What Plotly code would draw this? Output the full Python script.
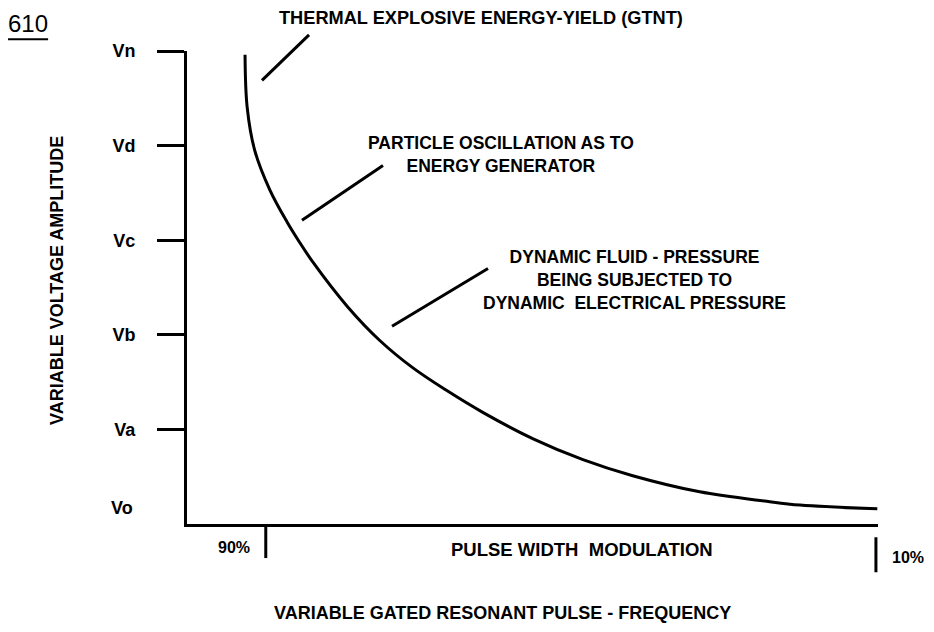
import plotly.graph_objects as go

# ---- data ----
volt_levels = [1, 2, 3, 4, 5]
volt_labels = ["Va", "Vb", "Vc", "Vd", "Vn"]
zero_label = "Vo"

# frequency axis in arbitrary units (0 at the voltage axis, 100 at the end)
curve_x = [8.4, 8.7, 9.8, 12.0, 14.5, 16.1, 18.2, 23.2, 27.9, 32.7, 37.6, 42.8,
           50.1, 57.3, 64.5, 74.2, 83.9, 88.7, 99.9]
curve_y = [4.96, 4.41, 3.95, 3.53, 3.19, 3.00, 2.77, 2.30, 1.94, 1.65, 1.41, 1.18,
           0.90, 0.68, 0.51, 0.34, 0.24, 0.20, 0.16]

pwm_x = [11.4, 99.7]
pwm_labels = ["90%", "10%"]
pwm_bar_top = [-0.02, -0.14]
pwm_bar_bottom = [-0.36, -0.51]
pwm_label_y = [-0.25, -0.35]

leader_x0 = [10.85, 16.64, 29.67]
leader_y0 = [4.69, 3.21, 2.09]
leader_x1 = [17.66, 28.36, 43.56]
leader_y1 = [5.17, 3.79, 2.70]

note_texts = [
    "THERMAL EXPLOSIVE ENERGY-YIELD (GTNT)",
    "PARTICLE OSCILLATION AS TO<br>ENERGY GENERATOR",
    "DYNAMIC FLUID - PRESSURE<br>BEING SUBJECTED TO<br>DYNAMIC\u00a0 ELECTRICAL PRESSURE",
]
note_x = [42.5, 45.4, 64.7]
note_y = [5.35, 3.91, 2.58]

x_title = "VARIABLE GATED RESONANT PULSE - FREQUENCY"
y_title = "VARIABLE VOLTAGE AMPLITUDE"
pwm_title = "PULSE WIDTH\u00a0 MODULATION"
fig_number = "610"

X_MIN, X_MAX = 0, 100
Y_MIN, Y_MAX = 0, 5

FONT = "Liberation Sans, Arial, sans-serif"


def yp(v):
    return (v - Y_MIN) / (Y_MAX - Y_MIN)


def xp(v):
    return (v - X_MIN) / (X_MAX - X_MIN)


def bold(s):
    return "<b>" + s + "</b>"


fig = go.Figure()
fig.add_trace(go.Scatter(
    x=curve_x, y=curve_y, mode="lines",
    line=dict(color="black", width=3, shape="spline", smoothing=1.0),
    hoverinfo="skip", showlegend=False,
))

shapes = []
for x0, y0, x1, y1 in zip(leader_x0, leader_y0, leader_x1, leader_y1):
    shapes.append(dict(type="line", xref="x", yref="paper",
                       x0=x0, y0=yp(y0), x1=x1, y1=yp(y1),
                       line=dict(color="black", width=3)))
for bx, t, b in zip(pwm_x, pwm_bar_top, pwm_bar_bottom):
    shapes.append(dict(type="line", xref="x", yref="paper",
                       x0=bx, y0=yp(t), x1=bx, y1=yp(b),
                       line=dict(color="black", width=3)))
# underline of figure number
shapes.append(dict(type="line", xref="paper", yref="paper",
                   x0=-0.259, x1=-0.201, y0=1.025, y1=1.025,
                   line=dict(color="black", width=2)))

annotations = []
base_font = dict(family=FONT, size=18, color="black")
annotations.append(dict(text=bold(note_texts[0]), x=xp(note_x[0]), y=yp(note_y[0]),
                        xref="paper", yref="paper", showarrow=False,
                        xanchor="center", yanchor="middle",
                        font=dict(family=FONT, size=18.2, color="black")))
for t, nx, ny in zip(note_texts[1:], note_x[1:], note_y[1:]):
    annotations.append(dict(text=bold(t), x=nx, y=ny, xref="x", yref="y",
                            showarrow=False, xanchor="center", yanchor="middle",
                            align="center", font=dict(family=FONT, size=17.5, color="black")))
for bx, lab, ly, side in zip(pwm_x, pwm_labels, pwm_label_y, ["right", "left"]):
    annotations.append(dict(text=bold(lab), x=bx, y=yp(ly),
                            xref="x", yref="paper", showarrow=False,
                            xanchor=side, yanchor="middle",
                            xshift=-14 if side == "right" else 14,
                            font=dict(family=FONT, size=16, color="black")))
annotations.append(dict(text=bold(pwm_title), x=57.2, y=yp(-0.27), xref="x", yref="paper",
                        showarrow=False, xanchor="center", yanchor="middle",
                        font=dict(family=FONT, size=18.5, color="black")))
annotations.append(dict(text=bold(x_title), x=45.6, y=yp(-0.94), xref="x", yref="paper",
                        showarrow=False, xanchor="center", yanchor="middle",
                        font=base_font))
annotations.append(dict(text=bold(y_title), x=-0.188, y=yp(2.57), xref="paper", yref="paper",
                        showarrow=False, xanchor="center", yanchor="middle",
                        textangle=-90, font=base_font))
annotations.append(dict(text=bold(zero_label), x=-0.075, y=yp(0.17),
                        xref="paper", yref="paper", showarrow=False,
                        xanchor="right", yanchor="middle", font=base_font))
annotations.append(dict(text=fig_number, x=-0.230, y=1.058, xref="paper", yref="paper",
                        showarrow=False, xanchor="center", yanchor="middle",
                        font=dict(family=FONT, size=24, color="black")))

# the page body adds an 8px offset, so the figure is drawn 8px smaller
fig.update_layout(
    width=926, height=624,
    margin=dict(l=179, r=56, t=43, b=108),
    paper_bgcolor="white", plot_bgcolor="white",
    showlegend=False,
    shapes=shapes, annotations=annotations,
    xaxis=dict(range=[X_MIN, X_MAX], showgrid=False, zeroline=False,
               showline=True, linecolor="black", linewidth=3,
               showticklabels=False, ticks=""),
    yaxis=dict(range=[Y_MIN, Y_MAX], showgrid=False, zeroline=False,
               showline=True, linecolor="black", linewidth=3,
               tickmode="array", tickvals=volt_levels,
               ticktext=[bold(v) for v in volt_labels],
               ticks="outside", ticklen=27, tickwidth=3, tickcolor="black",
               ticklabelstandoff=18,
               tickfont=dict(family=FONT, size=18, color="black")),
)

fig.write_html("out.html")
